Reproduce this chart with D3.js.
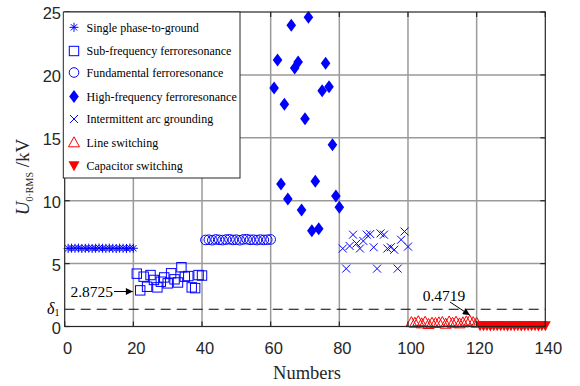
<!DOCTYPE html>
<html>
<head>
<meta charset="utf-8">
<script src="https://cdn.jsdelivr.net/npm/d3@7"></script>
<style>
  body { margin: 0; background: #fff; }
  svg { display: block; }
</style>
</head>
<body>
<svg id="chart" width="580" height="386"></svg>
<script>
// Zero-sequence RMS voltage (kV) for each recorded event, grouped by event type.
const singlePhase  = [6.21, 6.23, 6.22, 6.24, 6.20, 6.22, 6.23, 6.21, 6.22, 6.24,
                      6.22, 6.21, 6.23, 6.22, 6.20, 6.23, 6.22, 6.21, 6.24, 6.22];
const subFreq      = [4.20, 2.8725, 3.96, 3.16, 4.09, 3.70, 3.11, 3.56, 3.90, 3.43,
                      4.23, 3.75, 3.50, 4.71, 3.96, 4.01, 3.11, 3.05, 4.09, 4.05];
const fundamental  = [6.88, 6.90, 6.86, 6.92, 6.89, 6.87, 6.91, 6.93, 6.88, 6.90,
                      6.86, 6.92, 6.94, 6.89, 6.90, 6.87, 6.91, 6.88, 6.90, 6.92];
const highFreq     = [18.96, 21.18, 11.33, 17.66, 10.14, 23.94, 20.55, 21.03, 9.26, 16.52,
                      24.58, 7.62, 11.54, 7.78, 18.74, 20.92, 19.06, 14.45, 10.37, 9.47];
const arcGround    = [6.20, 4.60, 6.40, 7.30, 6.60, 6.20, 6.80, 7.30, 7.35, 6.30,
                      4.60, 7.40, 7.30, 6.20, 6.30, 6.10, 4.60, 6.90, 7.55, 6.35];
const lineSwitch   = [0.35, 0.30, 0.42, 0.25, 0.38, 0.20, 0.30, 0.28, 0.33, 0.36,
                      0.22, 0.40, 0.30, 0.38, 0.25, 0.33, 0.41, 0.4719, 0.35, 0.30];
const capSwitch    = [0.05, 0.06, 0.05, 0.04, 0.06, 0.05, 0.05, 0.06, 0.04, 0.05,
                      0.06, 0.05, 0.04, 0.05, 0.06, 0.05, 0.05, 0.04, 0.06, 0.05];

// First event number of each group (events are numbered consecutively).
const groupStart = [1, 21, 41, 61, 81, 101, 121];
const groupNames = ["Single phase-to-ground", "Sub-frequency ferroresonance",
                    "Fundamental ferroresonance", "High-frequency ferroresonance",
                    "Intermittent arc grounding", "Line switching", "Capacitor switching"];
const groupValues = [singlePhase, subFreq, fundamental, highFreq, arcGround, lineSwitch, capSwitch];

const xTicks = [0, 20, 40, 60, 80, 100, 120, 140];
const yTicks = [0, 5, 10, 15, 20, 25];
const delta1 = 1.37;          // threshold δ1
const subFreqMin = 2.8725;    // annotated minimum of sub-frequency group
const lineSwitchMax = 0.4719; // annotated maximum of line-switching group

const BLUE = "#0000ff", RED = "#ff0000";
const serif = "'Liberation Serif', 'Times New Roman', serif";
const sans = "'Liberation Sans', Arial, sans-serif";

const svg = d3.select("#chart");
const pL = 64.7, pR = 545.3, pT = 12, pB = 326.5;
const x = d3.scaleLinear().domain([0, 140]).range([pL, pR]);
const y = d3.scaleLinear().domain([0, 25]).range([pB, pT]);

// grid
const grid = svg.append("g");
grid.selectAll("line.gx").data(xTicks.slice(1, -1)).join("line")
  .attr("x1", d => x(d)).attr("x2", d => x(d)).attr("y1", pT).attr("y2", pB)
  .attr("stroke", "#9a9a9a").attr("stroke-width", 1.5);
grid.selectAll("line.gy").data(yTicks.slice(1, -1)).join("line")
  .attr("y1", d => y(d)).attr("y2", d => y(d)).attr("x1", pL).attr("x2", pR)
  .attr("stroke", "#9a9a9a").attr("stroke-width", 1.5);

// δ1 threshold line
svg.append("line")
  .attr("x1", x(0)).attr("x2", x(140)).attr("y1", y(delta1)).attr("y2", y(delta1))
  .attr("stroke", "#000").attr("stroke-width", 1).attr("stroke-dasharray", "10,6");

// marker shapes
const sym = {
  star: (g) => {
    const r = 4.5;
    g.append("path").attr("d", `M${-r},0H${r}M0,${-r}V${r}M${-r*0.7},${-r*0.7}L${r*0.7},${r*0.7}M${-r*0.7},${r*0.7}L${r*0.7},${-r*0.7}`)
      .attr("stroke", BLUE).attr("stroke-width", 1).attr("fill", "none");
  },
  square: (g) => g.append("rect").attr("x", -4.7).attr("y", -4.7).attr("width", 9.4).attr("height", 9.4)
      .attr("fill", "none").attr("stroke", BLUE).attr("stroke-width", 1),
  circle: (g) => g.append("circle").attr("r", 4.8).attr("fill", "none").attr("stroke", BLUE).attr("stroke-width", 1),
  diamond: (g) => g.append("path").attr("d", "M0,-6.5L4.8,0L0,6.5L-4.8,0Z").attr("fill", BLUE),
  cross: (g) => g.append("path").attr("d", "M-4,-4L4,4M-4,4L4,-4").attr("stroke", BLUE).attr("stroke-width", 1).attr("fill", "none"),
  triUp: (g) => g.append("path").attr("d", "M0,-5.5L5.5,4.5L-5.5,4.5Z").attr("fill", "none").attr("stroke", RED).attr("stroke-width", 1),
  triDown: (g) => g.append("path").attr("d", "M0,5.5L5.5,-4.5L-5.5,-4.5Z").attr("fill", RED)
};
const groupSym = ["star", "square", "circle", "diamond", "cross", "triUp", "triDown"];

groupValues.forEach((vals, gi) => {
  const g = svg.append("g");
  g.selectAll("g").data(vals).join("g")
    .attr("transform", (d, i) => `translate(${x(groupStart[gi] + i)},${y(d)})`)
    .each(function () { sym[groupSym[gi]](d3.select(this)); });
});

// frame and inward ticks on all four sides
svg.append("rect").attr("x", pL).attr("y", pT).attr("width", pR - pL).attr("height", pB - pT)
  .attr("fill", "none").attr("stroke", "#262626").attr("stroke-width", 1.2);
const tk = svg.append("g").attr("stroke", "#262626").attr("stroke-width", 1.2);
xTicks.forEach(t => {
  tk.append("line").attr("x1", x(t)).attr("x2", x(t)).attr("y1", pB).attr("y2", pB - 5);
  tk.append("line").attr("x1", x(t)).attr("x2", x(t)).attr("y1", pT).attr("y2", pT + 5);
});
yTicks.forEach(t => {
  tk.append("line").attr("y1", y(t)).attr("y2", y(t)).attr("x1", pL).attr("x2", pL + 5);
  tk.append("line").attr("y1", y(t)).attr("y2", y(t)).attr("x1", pR).attr("x2", pR - 5);
});

// tick labels
svg.append("g").selectAll("text").data(xTicks).join("text")
  .attr("x", d => x(d) + 3).attr("y", 354)
  .attr("text-anchor", "middle").attr("font-family", sans).attr("font-size", 16.5).attr("fill", "#262626")
  .text(d => d);
svg.append("g").selectAll("text").data(yTicks).join("text")
  .attr("x", 61).attr("y", d => y(d) + 7)
  .attr("text-anchor", "end").attr("font-family", sans).attr("font-size", 16.5).attr("fill", "#262626")
  .text(d => d);

// δ1 label on the y axis
const dl = svg.append("text").attr("x", 47).attr("y", y(delta1) + 4.5)
  .attr("font-family", serif).attr("font-size", 16).attr("fill", "#000");
dl.append("tspan").attr("font-style", "italic").text("δ");
dl.append("tspan").attr("font-size", 10).attr("dy", 2).text("1");

// axis titles
svg.append("text").attr("x", x(70) + 2).attr("y", 379)
  .attr("text-anchor", "middle").attr("font-family", serif).attr("font-size", 18.5).attr("fill", "#262626")
  .text("Numbers");
const yl = svg.append("text").attr("transform", "translate(29,177) rotate(-90)")
  .attr("text-anchor", "middle").attr("font-family", serif).attr("font-size", 19).attr("fill", "#262626");
yl.append("tspan").attr("font-style", "italic").text("U");
yl.append("tspan").attr("font-size", 10).attr("dy", 4).text("0·RMS");
yl.append("tspan").attr("dy", -4).text(" /kV");

// annotations with arrows
svg.append("defs").append("marker").attr("id", "ah")
  .attr("viewBox", "0 0 10 10").attr("refX", 10).attr("refY", 5)
  .attr("markerWidth", 10).attr("markerHeight", 7).attr("markerUnits", "userSpaceOnUse")
  .attr("orient", "auto")
  .append("path").attr("d", "M0,0L10,5L0,10Z").attr("fill", "#000");

svg.append("text").attr("x", 113).attr("y", 296.5).attr("text-anchor", "end")
  .attr("font-family", serif).attr("font-size", 15.5).attr("fill", "#000").text(subFreqMin);
svg.append("line").attr("x1", 114).attr("y1", 291.5).attr("x2", x(20) - 0.5).attr("y2", 291.5)
  .attr("stroke", "#000").attr("stroke-width", 1).attr("marker-end", "url(#ah)");

svg.append("text").attr("x", 444).attr("y", 301).attr("text-anchor", "middle")
  .attr("font-family", serif).attr("font-size", 15.5).attr("fill", "#000").text(lineSwitchMax);
svg.append("line").attr("x1", 450).attr("y1", 302).attr("x2", x(118)).attr("y2", y(lineSwitchMax) - 5.5)
  .attr("stroke", "#000").attr("stroke-width", 1).attr("marker-end", "url(#ah)");

// legend
const lg = svg.append("g");
lg.append("rect").attr("x", 63.3).attr("y", 12).attr("width", 176.7).attr("height", 166)
  .attr("fill", "#fff").attr("stroke", "#262626").attr("stroke-width", 1);
const rowY = [27.3, 51, 72.5, 96.5, 119, 142.3, 165.7];
groupNames.forEach((name, i) => {
  const item = lg.append("g").attr("transform", `translate(74,${rowY[i]})`);
  sym[groupSym[i]](item);
  lg.append("text").attr("x", 86.5).attr("y", rowY[i] + 4.2)
    .attr("font-family", serif).attr("font-size", 12).attr("fill", "#000").text(name);
});
</script>
</body>
</html>
